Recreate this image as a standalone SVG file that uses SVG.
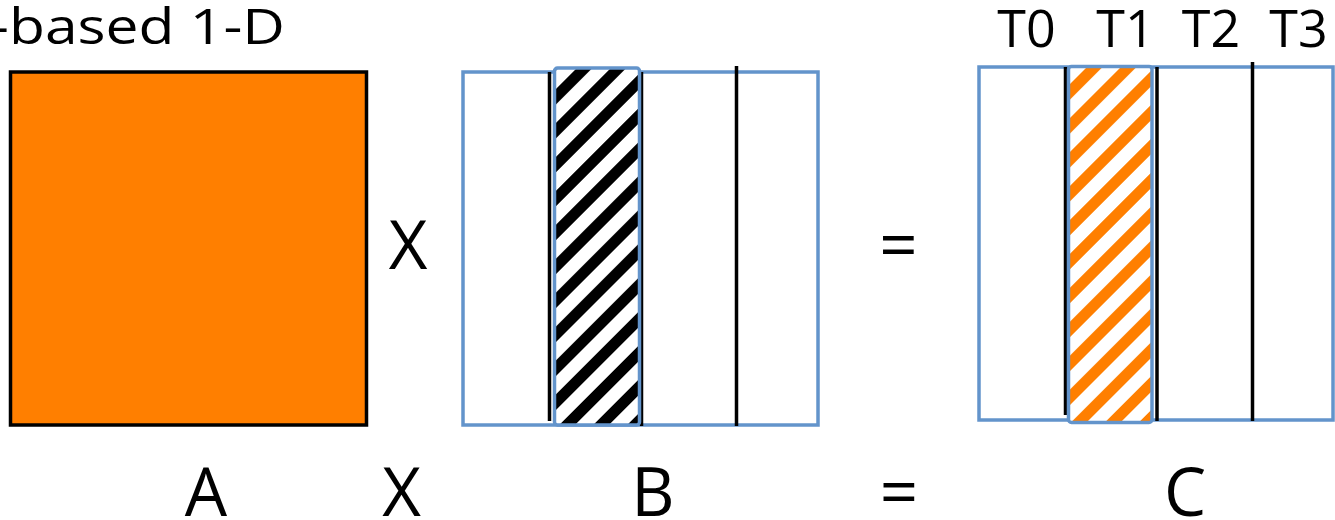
<svg xmlns="http://www.w3.org/2000/svg" width="1335" height="520" viewBox="0 0 1335 520">
  <style>
    .t { font-family: "Open Sans", "Liberation Sans", sans-serif; fill: #000; }
    .big { font-size: 67px; text-anchor: middle; }
    .tid { font-size: 52px; text-anchor: middle; }
    .blue { fill: none; stroke: #6394CB; stroke-width: 3.5; }
    .sep { stroke: #000; stroke-width: 3.5; }
  </style>
  <defs>
    <pattern id="hatchBlack" patternUnits="userSpaceOnUse" width="24" height="24" patternTransform="rotate(45)">
      <rect x="0" y="0" width="24" height="24" fill="#fff"/>
      <rect x="0" y="0" width="11" height="24" fill="#000"/>
    </pattern>
    <pattern id="hatchOrange" patternUnits="userSpaceOnUse" width="24" height="24" patternTransform="rotate(45)">
      <rect x="0" y="0" width="24" height="24" fill="#fff"/>
      <rect x="0" y="0" width="11" height="24" fill="#FF7F00"/>
    </pattern>
  </defs>
  <rect width="1335" height="520" fill="#fff"/>

  <g id="title">
    <text class="t" x="-10" y="44" font-size="50" textLength="295" lengthAdjust="spacingAndGlyphs">-based 1-D</text>
  </g>

  <g id="matrixA">
    <rect x="10.5" y="72" width="356" height="353" fill="#FF7F00" stroke="#000" stroke-width="3.5"/>
  </g>

  <g id="matrixB">
    <rect class="blue" x="463" y="72" width="355" height="353" fill="#fff"/>
    <line class="sep" x1="549.5" y1="72" x2="549.5" y2="421"/>
    <line class="sep" x1="641.5" y1="72" x2="641.5" y2="426"/>
    <line class="sep" x1="736.5" y1="66" x2="736.5" y2="426"/>
    <rect x="554.5" y="68" width="85" height="357" rx="3" fill="url(#hatchBlack)" stroke="#6394CB" stroke-width="3.5"/>
  </g>

  <g id="matrixC">
    <rect class="blue" x="979" y="67" width="354" height="353" fill="#fff"/>
    <line class="sep" x1="1065.5" y1="67" x2="1065.5" y2="415"/>
    <line class="sep" x1="1157" y1="67" x2="1157" y2="421"/>
    <line class="sep" x1="1252.5" y1="62" x2="1252.5" y2="421"/>
    <rect x="1068.5" y="66.5" width="83.5" height="356" rx="3" fill="url(#hatchOrange)" stroke="#6394CB" stroke-width="3.5"/>
  </g>

  <g id="threadLabels">
    <text class="t tid" x="1026.5" y="47">T0</text>
    <text class="t tid" x="1125.5" y="47">T1</text>
    <text class="t tid" x="1211" y="47">T2</text>
    <text class="t tid" x="1298.5" y="47">T3</text>
  </g>

  <g id="operators">
    <text class="t big" x="408" y="269">X</text>
    <text class="t big" x="898.5" y="269">=</text>
  </g>

  <g id="bottomLabels">
    <text class="t big" x="206" y="516">A</text>
    <text class="t big" x="401.5" y="516">X</text>
    <text class="t big" x="653" y="516">B</text>
    <text class="t big" x="899" y="516">=</text>
    <text class="t big" x="1185" y="516">C</text>
  </g>
</svg>
